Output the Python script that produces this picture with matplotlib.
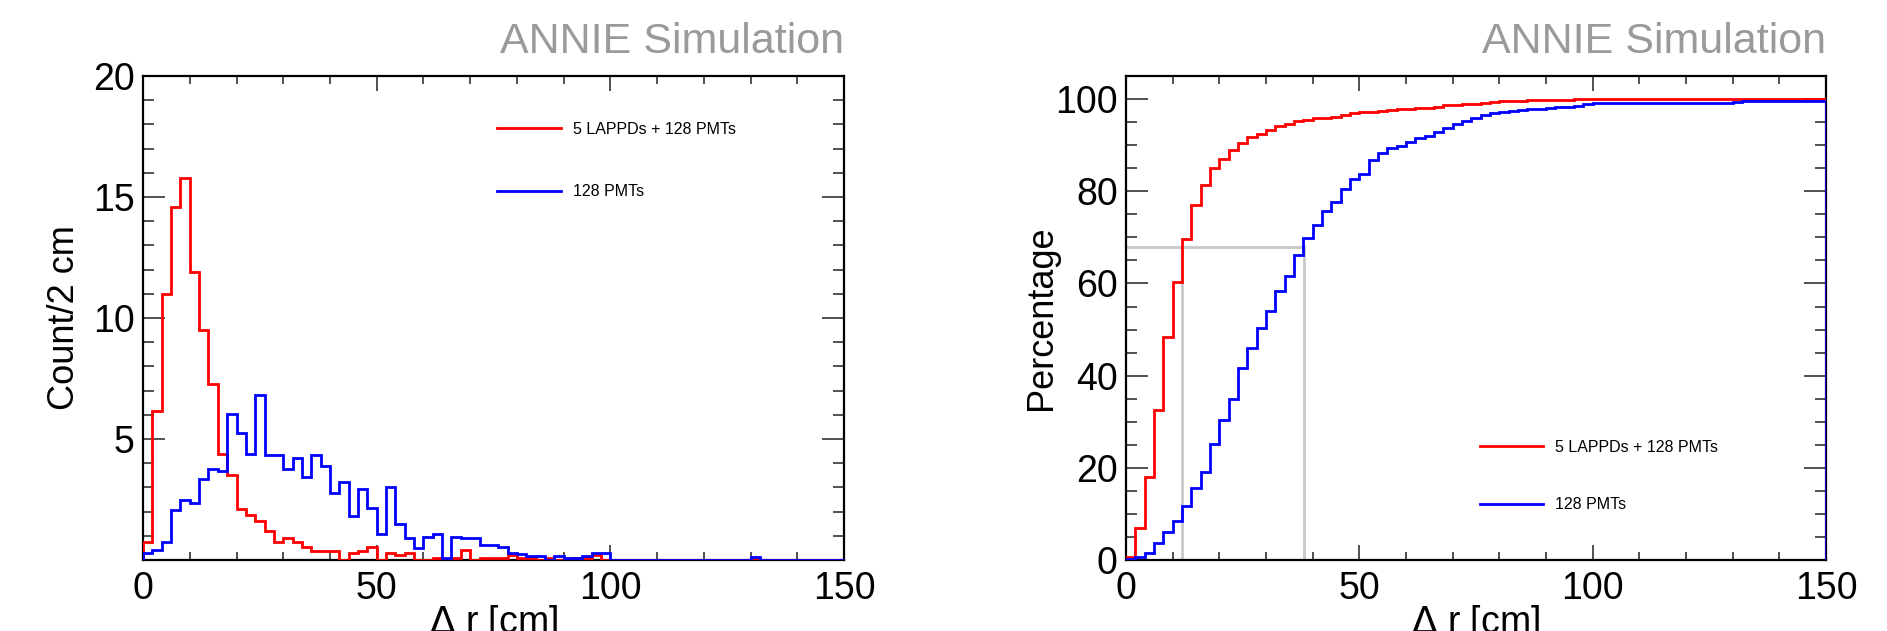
import matplotlib
matplotlib.use("Agg")
import matplotlib.pyplot as plt
from matplotlib.ticker import MultipleLocator
import numpy as np

plt.rcParams['font.family'] = ['Liberation Sans', 'DejaVu Sans']

# 2 cm bins from 0 to 150 cm
bin_edges = np.arange(0, 152, 2)
labels = ['5 LAPPDs + 128 PMTs', '128 PMTs']

# Count/2 cm
counts_lappd = [0.75, 6.16, 11.0, 14.6, 15.8, 11.9, 9.5, 7.26, 4.4, 3.53,
                2.1, 1.85, 1.6, 1.2, 0.75, 0.9, 0.75, 0.55, 0.38, 0.38,
                0.38, 0.0, 0.27, 0.38, 0.52, 0.0, 0.27, 0.2, 0.27, 0.0,
                0.0, 0.1, 0.0, 0.1, 0.4, 0.0, 0.1, 0.1, 0.1, 0.2,
                0.1, 0.1, 0.0, 0.1, 0.0, 0.0, 0.1, 0.1, 0.2, 0.0,
                0, 0, 0, 0, 0, 0, 0, 0, 0, 0,
                0, 0, 0, 0, 0, 0, 0, 0, 0, 0,
                0, 0, 0, 0, 0]
counts_pmt = [0.27, 0.4, 0.73, 2.08, 2.5, 2.37, 3.34, 3.77, 3.68, 6.03,
              5.26, 4.4, 6.8, 4.32, 4.32, 3.75, 4.2, 3.44, 4.32, 3.88,
              2.78, 3.23, 1.82, 2.92, 2.14, 1.06, 3.01, 1.48, 0.92, 0.5,
              0.97, 1.07, 0.1, 0.97, 0.93, 0.93, 0.62, 0.62, 0.52, 0.3,
              0.25, 0.15, 0.15, 0.0, 0.15, 0.1, 0.1, 0.15, 0.3, 0.3,
              0, 0, 0, 0, 0, 0, 0, 0, 0, 0,
              0, 0, 0, 0, 0, 0.12, 0, 0, 0, 0,
              0, 0, 0, 0, 0]

# cumulative percentage
cum_lappd = [0.7, 6.9, 18.0, 32.6, 48.3, 60.3, 69.7, 77.0, 81.4, 85.0,
             87.1, 88.9, 90.4, 91.7, 92.5, 93.4, 94.2, 94.7, 95.2, 95.5,
             95.8, 95.9, 96.2, 96.5, 97.0, 97.1, 97.3, 97.5, 97.7, 97.8,
             97.9, 98.0, 98.1, 98.2, 98.7, 98.8, 98.9, 99.0, 99.1, 99.3,
             99.5, 99.6, 99.6, 99.7, 99.8, 99.8, 99.9, 99.9, 100, 100,
             100, 100, 100, 100, 100, 100, 100, 100, 100, 100,
             100, 100, 100, 100, 100, 100, 100, 100, 100, 100,
             100, 100, 100, 100, 100]
cum_pmt = [0.2, 0.6, 1.6, 3.6, 6.0, 8.5, 11.7, 15.6, 19.2, 25.2,
           30.4, 34.9, 41.6, 46.0, 50.3, 54.1, 58.3, 61.7, 66.1, 69.8,
           72.6, 75.8, 77.7, 80.6, 82.7, 83.8, 86.8, 88.4, 89.3, 89.9,
           90.7, 91.5, 92.0, 92.8, 93.7, 94.6, 95.3, 95.9, 96.5, 97.0,
           97.2, 97.4, 97.6, 97.8, 97.9, 98.1, 98.2, 98.3, 98.6, 99.0,
           99.1, 99.1, 99.1, 99.1, 99.1, 99.1, 99.1, 99.1, 99.1, 99.1,
           99.1, 99.1, 99.1, 99.1, 99.1, 99.4, 99.6, 99.6, 99.6, 99.6,
           99.6, 99.6, 99.6, 99.6, 99.6]

# 68% containment radii
containment = 68
r68_lappd = 12.1
r68_pmt = 38.1

RED = '#ff0000'
BLUE = '#0000ff'
GREY_LINE = '#c8c8c8'
TITLE_GREY = '#9a9a9a'


def style_axes(ax, yminor):
    ax.set_xlim(0, 150)
    ax.xaxis.set_major_locator(MultipleLocator(50))
    ax.xaxis.set_minor_locator(MultipleLocator(10))
    ax.yaxis.set_minor_locator(MultipleLocator(yminor))
    for s in ax.spines.values():
        s.set_linewidth(1.6)
        s.set_color('black')
    ax.tick_params(which='both', direction='in', top=True, right=True,
                   labelsize=27, width=1.2, color='#333333')
    ax.tick_params(axis='y', which='major', length=16, pad=6)
    ax.tick_params(axis='y', which='minor', length=8)
    ax.tick_params(axis='x', which='major', length=11, pad=8)
    ax.tick_params(axis='x', which='minor', length=6)
    ax.text(1.0, 1.03, 'ANNIE Simulation', transform=ax.transAxes,
            ha='right', va='bottom', fontsize=31, color=TITLE_GREY)
    ax.set_xlabel('$\\Delta$ r [cm]', fontsize=27, labelpad=-3)


def add_legend(ax, top, spacing):
    ax.legend(loc='upper left', bbox_to_anchor=(0.505, top), frameon=False,
              fontsize=11.5, handlelength=4.0, handletextpad=0.75,
              labelspacing=spacing, borderpad=0, borderaxespad=0)


fig = plt.figure(figsize=(18.87, 6.31), dpi=100)

# left: distribution
ax1 = fig.add_axes([0.0758, 0.1125, 0.3715, 0.767])
ax1.stairs(counts_lappd, bin_edges, color=RED, lw=2, label=labels[0], zorder=3)
ax1.stairs(counts_pmt, bin_edges, color=BLUE, lw=2, label=labels[1], zorder=3)
ax1.set_ylim(0, 20)
ax1.set_yticks([5, 10, 15, 20])
style_axes(ax1, 1)
ax1.set_ylabel('Count/2 cm', fontsize=26)
ax1.yaxis.set_label_coords(-0.087, 0.5)
add_legend(ax1, 0.906, 3.0)

# right: cumulative percentage
ax2 = fig.add_axes([0.5967, 0.1125, 0.371, 0.767])
ax2.plot([0, r68_pmt], [containment, containment], color=GREY_LINE, lw=2, zorder=2)
ax2.plot([r68_lappd, r68_lappd], [0, containment], color=GREY_LINE, lw=2, zorder=2)
ax2.plot([r68_pmt, r68_pmt], [0, containment], color=GREY_LINE, lw=2, zorder=2)
ax2.stairs(cum_lappd, bin_edges, color=RED, lw=2, label=labels[0], zorder=3)
ax2.stairs(cum_pmt, bin_edges, color=BLUE, lw=2, label=labels[1], zorder=3)
ax2.set_ylim(0, 105)
ax2.set_yticks([0, 20, 40, 60, 80, 100])
style_axes(ax2, 5)
ax2.set_ylabel('Percentage', fontsize=26)
ax2.yaxis.set_label_coords(-0.096, 0.5)
add_legend(ax2, 0.248, 2.65)

fig.savefig('out.png', dpi=100)
